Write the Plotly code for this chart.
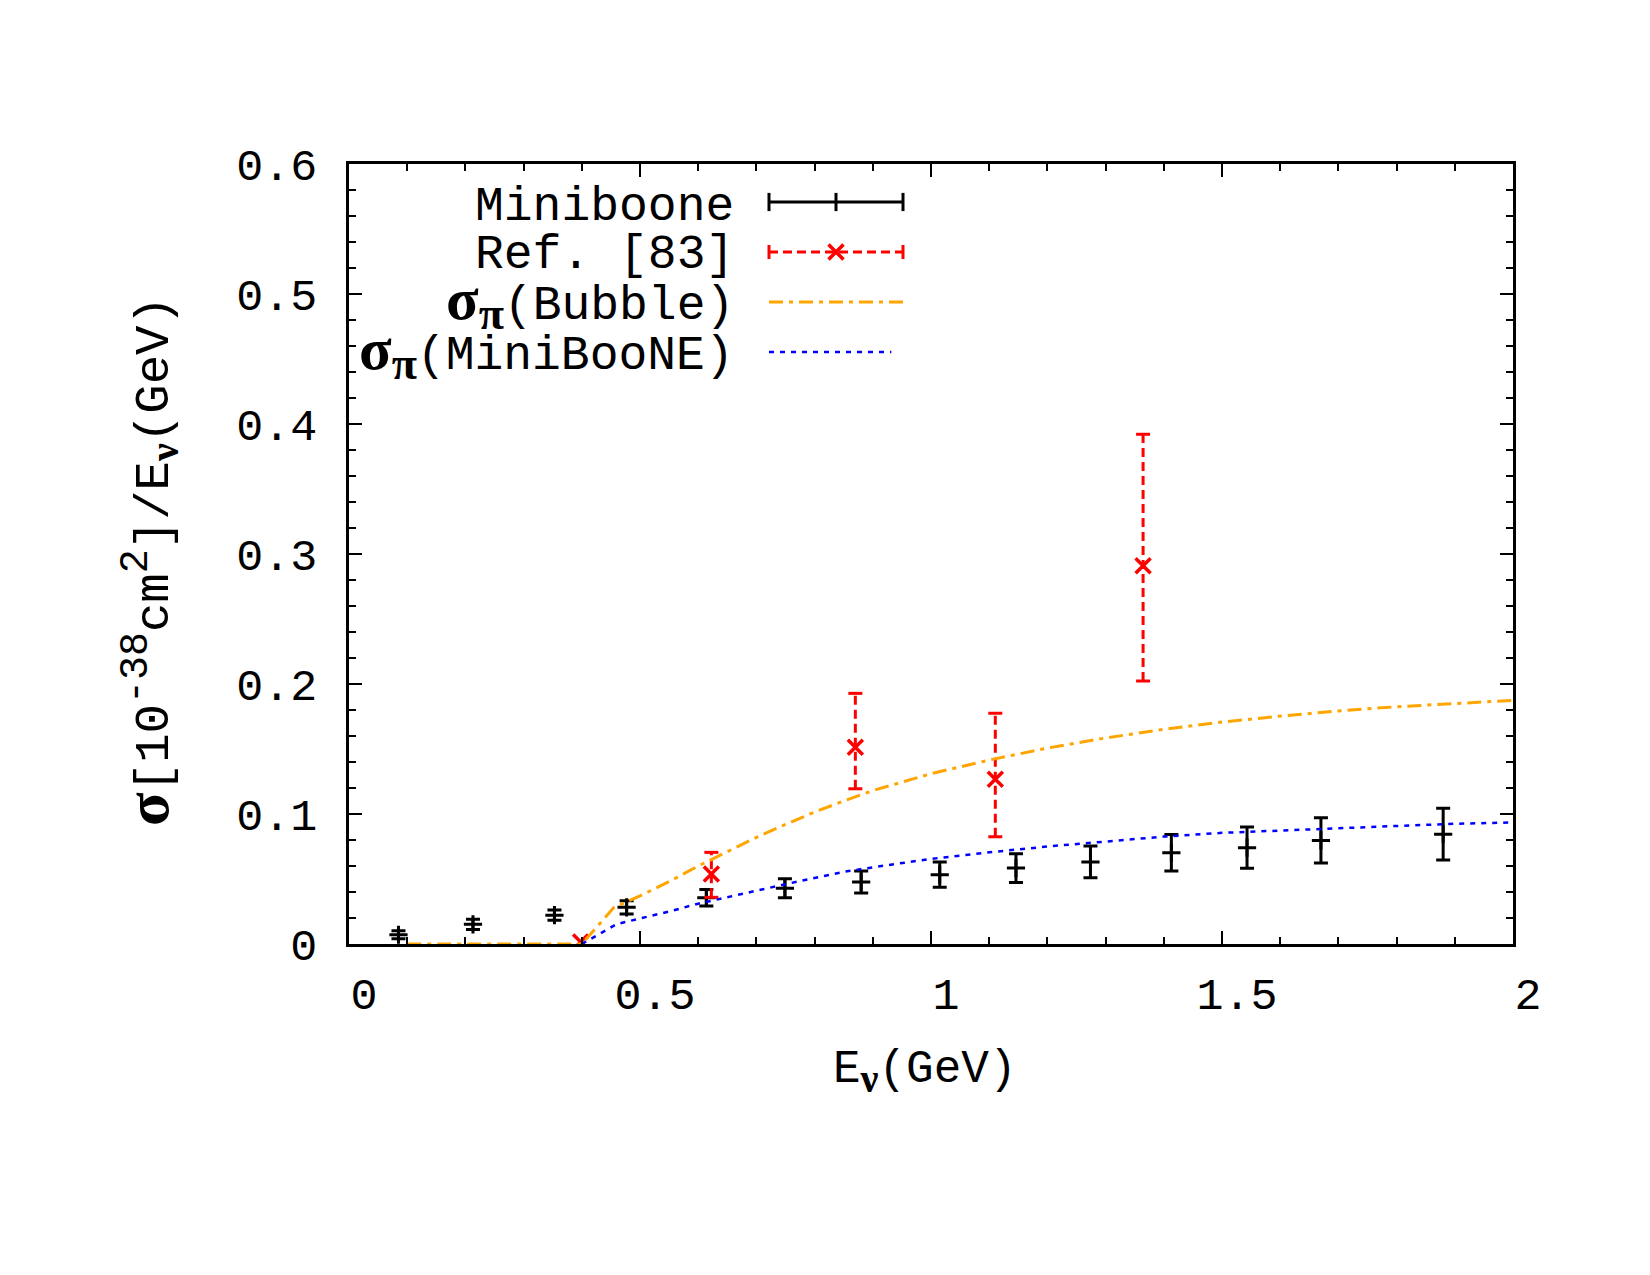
import plotly.graph_objects as go

# ---------------- data ----------------
mb_x = [0.085, 0.213, 0.353, 0.477, 0.614, 0.749, 0.880, 1.015, 1.146, 1.274, 1.413, 1.543, 1.670, 1.880]
mb_y = [0.0071, 0.0151, 0.0222, 0.0282, 0.0356, 0.0428, 0.0477, 0.0533, 0.0584, 0.0631, 0.0702, 0.0741, 0.0797, 0.0845]
mb_err = [0.0030, 0.0040, 0.0040, 0.0051, 0.0064, 0.0073, 0.0085, 0.0097, 0.0110, 0.0122, 0.0141, 0.0159, 0.0174, 0.0199]

ref_x = [0.398, 0.6226, 0.870, 1.1105, 1.3644]
ref_y = [0.0016, 0.0538, 0.1513, 0.1267, 0.2910]
ref_hi = [0.0016, 0.0705, 0.1928, 0.1775, 0.3921]
ref_lo = [0.0016, 0.0359, 0.1194, 0.0825, 0.2023]

bubble_x = [0.10, 0.20, 0.30, 0.40, 0.455, 0.50, 0.55, 0.60, 0.65, 0.70, 0.75, 0.80, 0.85, 0.90,
            1.00, 1.10, 1.20, 1.30, 1.40, 1.50, 1.60, 1.70, 1.80, 1.90, 2.00]
bubble_y = [0, 0, 0, 0, 0.028, 0.037, 0.048, 0.060, 0.071, 0.082, 0.092, 0.1015, 0.110, 0.118,
            0.131, 0.1415, 0.1507, 0.1585, 0.1651, 0.1707, 0.1753, 0.1793, 0.1825, 0.1852, 0.1874]

mbne_x = [0.40, 0.46, 0.50, 0.55, 0.60, 0.65, 0.70, 0.75, 0.80, 0.85, 0.90, 1.00, 1.10,
          1.20, 1.30, 1.40, 1.50, 1.60, 1.70, 1.80, 1.90, 2.00]
mbne_y = [0, 0.0153, 0.0196, 0.025, 0.031, 0.0362, 0.041, 0.046, 0.051, 0.0555, 0.059, 0.0655, 0.0705,
          0.075, 0.0788, 0.0826, 0.0855, 0.0875, 0.089, 0.0908, 0.0925, 0.0935]

SIG = "<span style=\"font-family:'Liberation Serif';font-size:60px\"><b>σ</b></span>"
PI = "<sub><span style=\"font-family:'Liberation Serif';font-size:46px\"><b>π</b></span></sub>"
legend_labels = [
    "Miniboone",
    "Ref. [83]",
    SIG + PI + "(Bubble)",
    SIG + PI + "(MiniBooNE)",
]

# ---------------- figure ----------------
MONO = "Liberation Mono"
W, H = 1650, 1275
L, R, T, B = 349, 137, 164, 331
pw, ph = W - L - R, H - T - B

fig = go.Figure()

# Miniboone data with error bars
fig.add_trace(go.Scatter(
    x=mb_x, y=mb_y, mode="markers",
    marker=dict(symbol="cross-thin", size=13, color="black", line=dict(color="black", width=3)),
    error_y=dict(type="data", array=mb_err, visible=True, color="black", thickness=3, width=7),
    showlegend=False))

# Ref. [83] dashed error bars
ex, ey = [], []
for xv, lo, hi in zip(ref_x, ref_lo, ref_hi):
    ex += [xv, xv, None]
    ey += [lo, hi, None]
fig.add_trace(go.Scatter(x=ex, y=ey, mode="lines",
                         line=dict(color="red", width=3, dash="9px,5px"),
                         showlegend=False, connectgaps=False))
cx, cy = [], []
for xv, lo, hi in zip(ref_x, ref_lo, ref_hi):
    if hi > lo:
        cx += [xv, xv]
        cy += [lo, hi]
fig.add_trace(go.Scatter(x=cx, y=cy, mode="markers",
                         marker=dict(symbol="line-ew", size=10, color="red", line=dict(color="red", width=3)),
                         showlegend=False))
fig.add_trace(go.Scatter(x=ref_x, y=ref_y, mode="markers",
                         marker=dict(symbol="x-thin", size=15, color="red", line=dict(color="red", width=3.5)),
                         showlegend=False))

# model curves
fig.add_trace(go.Scatter(x=bubble_x, y=bubble_y, mode="lines",
                         line=dict(color="#FFA500", width=3, dash="14px,6px,4px,6px"),
                         showlegend=False))
fig.add_trace(go.Scatter(x=mbne_x, y=mbne_y, mode="lines",
                         line=dict(color="blue", width=2.5, dash="5px,6px"),
                         showlegend=False))

# ---------------- custom legend (overlay axes in plot-fraction units) ----------------
lx0 = (769 - L) / pw
lx1 = (903 - L) / pw
lxm = (lx0 + lx1) / 2
rows = [(944 - yy) / ph for yy in (202, 252, 302, 352)]
text_shift = [-5, -3, 0, 0]
ltext_x = (736 - L) / pw

# Miniboone sample
fig.add_trace(go.Scatter(x=[lx0, lx1], y=[rows[0], rows[0]], mode="lines",
                         line=dict(color="black", width=3), xaxis="x2", yaxis="y2", showlegend=False))
fig.add_trace(go.Scatter(x=[lx0, lxm, lx1], y=[rows[0]] * 3, mode="markers",
                         marker=dict(symbol="line-ns", size=13, color="black", line=dict(color="black", width=3)),
                         xaxis="x2", yaxis="y2", showlegend=False))
# Ref sample
fig.add_trace(go.Scatter(x=[lx0, lx1], y=[rows[1], rows[1]], mode="lines",
                         line=dict(color="red", width=3, dash="9px,5px"), xaxis="x2", yaxis="y2", showlegend=False))
fig.add_trace(go.Scatter(x=[lx0, lx1], y=[rows[1]] * 2, mode="markers",
                         marker=dict(symbol="line-ns", size=10, color="red", line=dict(color="red", width=3)),
                         xaxis="x2", yaxis="y2", showlegend=False))
fig.add_trace(go.Scatter(x=[lxm], y=[rows[1]], mode="markers",
                         marker=dict(symbol="x-thin", size=15, color="red", line=dict(color="red", width=3.5)),
                         xaxis="x2", yaxis="y2", showlegend=False))
# Bubble sample
fig.add_trace(go.Scatter(x=[lx0, lx1], y=[rows[2], rows[2]], mode="lines",
                         line=dict(color="#FFA500", width=3, dash="14px,6px,4px,6px"),
                         xaxis="x2", yaxis="y2", showlegend=False))
# MiniBooNE sample
fig.add_trace(go.Scatter(x=[lx0, lx1 - 0.01], y=[rows[3], rows[3]], mode="lines",
                         line=dict(color="blue", width=2.5, dash="5px,6px"),
                         xaxis="x2", yaxis="y2", showlegend=False))

annotations = []
for lab, yy, sh in zip(legend_labels, rows, text_shift):
    annotations.append(dict(text=lab, x=ltext_x, y=yy, xref="paper", yref="paper",
                            xanchor="right", yanchor="middle", showarrow=False, yshift=sh,
                            font=dict(family=MONO, size=48, color="black")))

NU = "<sub><span style=\"font-family:'Liberation Serif';font-size:40px\"><b>ν</b></span></sub>"
# axis titles
annotations.append(dict(
    text="E" + NU + "(GeV)",
    x=(925 - L) / pw, y=(944 - 1072) / ph, xref="paper", yref="paper",
    xanchor="center", yanchor="middle", showarrow=False,
    font=dict(family=MONO, size=46, color="black")))
annotations.append(dict(
    text="<span style=\"font-family:'Liberation Serif';font-size:62px\"><b>σ</b></span>[10"
         "<sup><span style=\"font-size:40px\">-38</span></sup>cm"
         "<sup><span style=\"font-size:40px\">2</span></sup>]/E" + NU + "(GeV)",
    x=(150 - L) / pw, y=(944 - 561) / ph, xref="paper", yref="paper",
    xanchor="center", yanchor="middle", textangle=-90, showarrow=False,
    font=dict(family=MONO, size=49, color="black")))

axis_common = dict(
    showline=True, linecolor="black", linewidth=2.5, mirror="allticks",
    ticks="inside", ticklen=13, tickwidth=2, tickcolor="black",
    showgrid=False, zeroline=False,
    tickfont=dict(family=MONO, size=45, color="black"),
)

fig.update_layout(
    width=W, height=H,
    margin=dict(l=L, r=R, t=T, b=B, pad=0),
    paper_bgcolor="white", plot_bgcolor="white",
    showlegend=False,
    xaxis=dict(range=[0, 2], dtick=0.5, tick0=0,
               minor=dict(dtick=0.1, ticks="inside", ticklen=7, tickwidth=2, tickcolor="black", showgrid=False),
               ticklabelshift=15, ticklabelstandoff=8, **axis_common),
    yaxis=dict(range=[0, 0.6], dtick=0.1, tick0=0,
               minor=dict(dtick=0.02, ticks="inside", ticklen=7, tickwidth=2, tickcolor="black", showgrid=False),
               ticklabelstandoff=20, **axis_common),
    xaxis2=dict(range=[0, 1], overlaying="x", visible=False, anchor="y2"),
    yaxis2=dict(range=[0, 1], overlaying="y", visible=False, anchor="x2"),
    annotations=annotations,
)

fig.write_html("out.html")
